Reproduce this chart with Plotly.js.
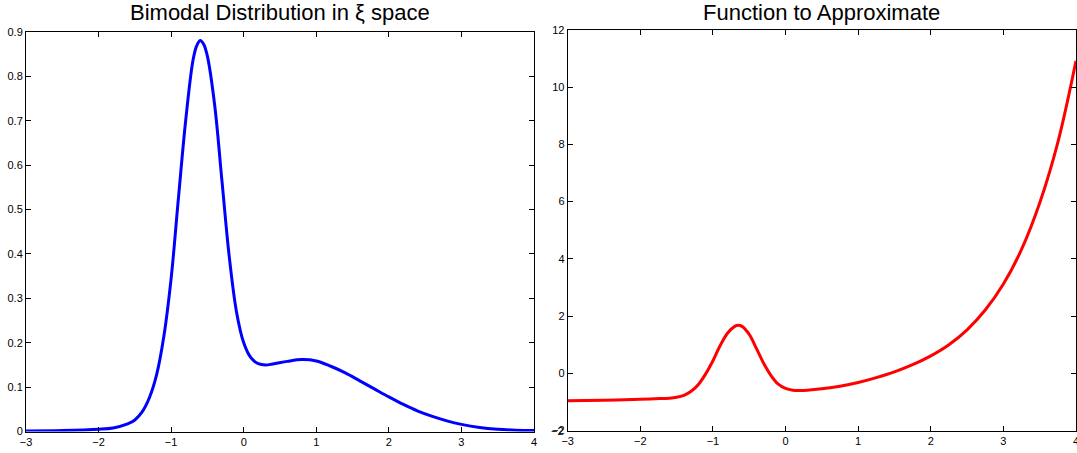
<!DOCTYPE html>
<html>
<head>
<meta charset="utf-8">
<script src="https://cdn.plot.ly/plotly-3.0.1.min.js"></script>
<style>
  html, body { margin: 0; padding: 0; background: #fff; }
  #chart { width: 1077px; height: 453px; }
</style>
</head>
<body>
<div id="chart"></div>
<script>
// Left panel: bimodal density over xi
const xiGrid = [-3, -2.5, -2, -1.8, -1.6, -1.5, -1.4, -1.3, -1.2, -1.1, -1.0, -0.9, -0.8, -0.7, -0.65, -0.6, -0.55, -0.5, -0.4, -0.3, -0.2, -0.1, 0, 0.1, 0.2, 0.3, 0.4, 0.6, 0.8, 1.0, 1.2, 1.4, 1.6, 1.8, 2.0, 2.2, 2.4, 2.6, 2.8, 3.0, 3.25, 3.5, 3.75, 4.0];
const density = [0.001, 0.002, 0.005, 0.008, 0.017, 0.026, 0.044, 0.076, 0.128, 0.215, 0.345, 0.525, 0.700, 0.835, 0.868, 0.881, 0.872, 0.845, 0.735, 0.565, 0.395, 0.270, 0.200, 0.166, 0.153, 0.150, 0.152, 0.158, 0.162, 0.159, 0.147, 0.132, 0.114, 0.096, 0.078, 0.061, 0.046, 0.034, 0.024, 0.016, 0.009, 0.005, 0.003, 0.002];

// Right panel: target function
const xGrid = [-3, -2.5, -2, -1.8, -1.6, -1.5, -1.4, -1.3, -1.2, -1.1, -1.0, -0.9, -0.8, -0.7, -0.65, -0.6, -0.5, -0.4, -0.3, -0.2, -0.1, 0, 0.1, 0.2, 0.3, 0.5, 0.75, 1.0, 1.25, 1.5, 1.75, 2.0, 2.25, 2.5, 2.75, 3.0, 3.25, 3.5, 3.75, 4.0];
const target = [-0.96, -0.94, -0.91, -0.89, -0.87, -0.84, -0.77, -0.63, -0.39, -0.02, 0.44, 0.97, 1.40, 1.64, 1.675, 1.64, 1.36, 0.86, 0.34, -0.08, -0.38, -0.53, -0.59, -0.60, -0.59, -0.54, -0.45, -0.32, -0.15, 0.05, 0.30, 0.61, 1.00, 1.52, 2.21, 3.12, 4.33, 5.95, 8.07, 10.92];

// Tick positions
const xTicks = [-3, -2, -1, 0, 1, 2, 3, 4];
const densityTicks = [0, 0.1, 0.2, 0.3, 0.4, 0.5, 0.6, 0.7, 0.8, 0.9];
const targetTicks = [-2, 0, 2, 4, 6, 8, 10, 12];

const titles = ['Bimodal Distribution in \u03BE space', 'Function to Approximate'];

const FONT = 'Liberation Sans, Arial, Helvetica, sans-serif';
const W = 1077, H = 453;
const fmt = v => String(v).replace('-', '\u2212');

function axis(ticks, range, extra) {
  return Object.assign({
    range: range, tickmode: 'array', tickvals: ticks,
    ticktext: ticks.map(fmt),
    showline: true, linecolor: '#000', linewidth: 1, mirror: 'ticks',
    ticks: 'inside', ticklen: 5, tickwidth: 1, tickcolor: '#000',
    showgrid: false, zeroline: false, automargin: false, fixedrange: true,
    ticklabeloverflow: 'allow',
    tickfont: { family: FONT, size: 11, color: '#000' }
  }, extra);
}

const traces = [
  { x: xiGrid, y: density, type: 'scatter', mode: 'lines', xaxis: 'x', yaxis: 'y',
    line: { color: '#0000ff', width: 3, shape: 'spline', smoothing: 1 }, hoverinfo: 'skip' },
  { x: xGrid, y: target, type: 'scatter', mode: 'lines', xaxis: 'x2', yaxis: 'y2',
    line: { color: '#ff0000', width: 3, shape: 'spline', smoothing: 1 }, hoverinfo: 'skip' }
];

const leftDom = [26 / W, 534 / W];
const rightDom = [567.7 / W, 1076 / W];

const annotations = titles.map((t, i) => ({
  text: t, xref: 'paper', yref: 'paper',
  x: i === 0 ? (leftDom[0] + leftDom[1]) / 2 : (rightDom[0] + rightDom[1]) / 2,
  y: 1 - 12 / H, xanchor: 'center', yanchor: 'middle', showarrow: false,
  font: { family: FONT, size: 22, color: '#000' }
}));

// The lowest right-hand tick label sits in the corner next to the x labels,
// where plotly drops it; draw it explicitly at its tick value.
annotations.push({
  text: fmt(targetTicks[0]), xref: 'paper', yref: 'y2',
  x: (rightDom[0] * W - 2) / W, y: targetTicks[0],
  xanchor: 'right', yanchor: 'middle', showarrow: false,
  font: { family: FONT, size: 11, color: '#000' }
});

const layout = {
  width: W, height: H,
  margin: { l: 0, r: 0, t: 0, b: 0 },
  paper_bgcolor: '#fff', plot_bgcolor: '#fff',
  showlegend: false,
  xaxis: axis(xTicks, [-3, 4], { domain: leftDom, anchor: 'y' }),
  yaxis: axis(densityTicks, [0, 0.9], { domain: [1 - 431.5 / H, 1 - 32 / H], anchor: 'x' }),
  xaxis2: axis(xTicks, [-3, 4], { domain: rightDom, anchor: 'y2' }),
  yaxis2: axis(targetTicks, [-2, 12], { domain: [1 - 430.5 / H, 1 - 30 / H], anchor: 'x2' }),
  annotations: annotations
};

Plotly.newPlot('chart', traces, layout, { staticPlot: true, displayModeBar: false });
</script>
</body>
</html>
